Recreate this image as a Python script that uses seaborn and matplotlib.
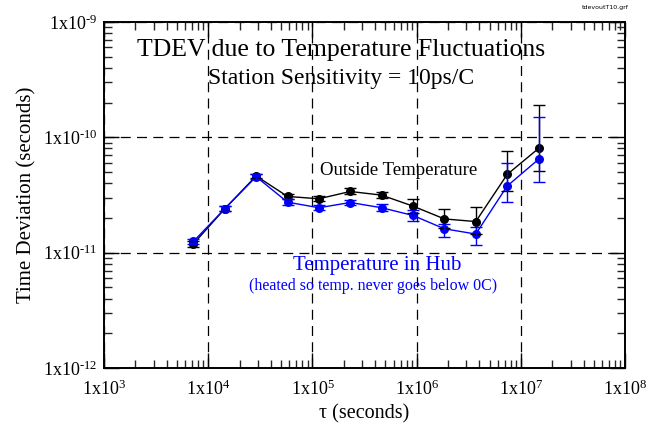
import numpy as np
import pandas as pd
import matplotlib
matplotlib.use("Agg")
import matplotlib.pyplot as plt
import seaborn as sns
from matplotlib.ticker import LogLocator, FixedLocator, NullFormatter

# =====================================
# Data
# =====================================
tau = [7200, 14400, 28800, 57600, 115200, 230400, 460800,
       921600, 1843200, 3686400, 7372800, 14745600]

outside = [1.19e-11, 2.40e-11, 4.62e-11, 3.07e-11, 2.93e-11, 3.39e-11, 3.15e-11,
           2.53e-11, 1.96e-11, 1.86e-11, 4.76e-11, 8.0e-11]
outside_lo = [1.12e-11, 2.28e-11, 4.40e-11, 2.90e-11, 2.78e-11, 3.20e-11, 2.95e-11,
              2.20e-11, 1.65e-11, 1.45e-11, 3.40e-11, 5.1e-11]
outside_hi = [1.27e-11, 2.53e-11, 4.85e-11, 3.25e-11, 3.08e-11, 3.60e-11, 3.38e-11,
              2.90e-11, 2.40e-11, 2.48e-11, 7.60e-11, 1.9e-10]

hub = [1.25e-11, 2.40e-11, 4.55e-11, 2.74e-11, 2.45e-11, 2.72e-11, 2.45e-11,
       2.10e-11, 1.61e-11, 1.45e-11, 3.78e-11, 6.44e-11]
hub_lo = [1.18e-11, 2.28e-11, 4.33e-11, 2.58e-11, 2.32e-11, 2.57e-11, 2.28e-11,
          1.87e-11, 1.37e-11, 1.17e-11, 2.75e-11, 4.1e-11]
hub_hi = [1.32e-11, 2.52e-11, 4.77e-11, 2.90e-11, 2.58e-11, 2.87e-11, 2.62e-11,
          2.35e-11, 1.78e-11, 1.66e-11, 6.00e-11, 1.5e-10]

x_ticks = [1e3, 1e4, 1e5, 1e6, 1e7, 1e8]
x_labels = ["1x10$^{3}$", "1x10$^{4}$", "1x10$^{5}$",
            "1x10$^{6}$", "1x10$^{7}$", "1x10$^{8}$"]
y_ticks = [1e-12, 1e-11, 1e-10, 1e-9]
y_labels = ["1x10$^{\\text{-}12}$", "1x10$^{\\text{-}11}$",
            "1x10$^{\\text{-}10}$", "1x10$^{\\text{-}9}$"]

df = pd.DataFrame({
    "tau": tau * 2,
    "tdev": outside + hub,
    "series": ["Outside"] * len(tau) + ["Hub"] * len(tau),
})

# =====================================
# Style
# =====================================
sns.set_style("ticks")
plt.rcParams["font.family"] = ["Liberation Serif", "DejaVu Serif"]
plt.rcParams["mathtext.fontset"] = "custom"
plt.rcParams["mathtext.rm"] = "Liberation Serif"
plt.rcParams["mathtext.it"] = "Liberation Serif:italic"
plt.rcParams["text.color"] = "black"
plt.rcParams["axes.labelcolor"] = "black"

fig = plt.figure(figsize=(6.54, 4.28), dpi=100)
ax = fig.add_axes([0.159, 0.140, 0.797, 0.809])

# =====================================
# Lines + markers
# =====================================
palette = {"Outside": "black", "Hub": "#0000ff"}
sns.lineplot(data=df, x="tau", y="tdev", hue="series", palette=palette,
             marker="o", markersize=6.5, markeredgewidth=0, linewidth=1,
             legend=False, ax=ax, zorder=3)

for vals, lo, hi, col in [(outside, outside_lo, outside_hi, "black"),
                          (hub, hub_lo, hub_hi, "#0000ff")]:
    v = np.array(vals)
    yerr = [v - np.array(lo), np.array(hi) - v]
    ax.errorbar(tau, vals, yerr=yerr, fmt="none", ecolor=col,
                elinewidth=1, capsize=4, capthick=1, zorder=3)

ax.set_xscale("log")
ax.set_yscale("log")
ax.set_xlim(1e3, 1e8)
ax.set_ylim(1e-12, 1e-9)

# =====================================
# Ticks / grid
# =====================================
ax.xaxis.set_major_locator(FixedLocator(x_ticks))
ax.set_xticklabels(x_labels)
ax.yaxis.set_major_locator(FixedLocator(y_ticks))
ax.set_yticklabels(y_labels)
ax.xaxis.set_minor_locator(LogLocator(base=10, subs=np.arange(2, 10)))
ax.yaxis.set_minor_locator(LogLocator(base=10, subs=np.arange(2, 10)))
ax.xaxis.set_minor_formatter(NullFormatter())
ax.yaxis.set_minor_formatter(NullFormatter())

ax.tick_params(which="major", direction="in", length=11, width=1,
               top=True, right=True, labelsize=13, colors="black")
ax.tick_params(axis="x", which="major", pad=8)
ax.tick_params(axis="y", which="major", pad=5)
ax.tick_params(which="minor", direction="in", length=6, width=1,
               top=True, right=True)

ax.grid(True, which="major", color="black", linestyle=(0, (8, 5)), linewidth=0.9)
for s in ax.spines.values():
    s.set_linewidth(1.4)
    s.set_color("black")

ax.set_xlabel("\u03c4 (seconds)", fontsize=14.5, labelpad=4)
ax.set_ylabel("Time Deviation (seconds)", fontsize=15, labelpad=4)

# =====================================
# Annotations
# =====================================
ax.text(0.455, 0.92, "TDEV due to Temperature Fluctuations", transform=ax.transAxes,
        ha="center", va="center", fontsize=18.5)
ax.text(0.455, 0.836, "Station Sensitivity = 10ps/C", transform=ax.transAxes,
        ha="center", va="center", fontsize=17)
ax.text(0.565, 0.57, "Outside Temperature", transform=ax.transAxes,
        ha="center", va="center", fontsize=13.5)
ax.text(0.525, 0.295, "Temperature in Hub", transform=ax.transAxes,
        ha="center", va="center", fontsize=15, color="#0000ff")
ax.text(0.517, 0.237, "(heated so temp. never goes below 0C)", transform=ax.transAxes,
        ha="center", va="center", fontsize=11.5, color="#0000ff")
fig.text(0.925, 0.982, "tdevoutT10.grf", ha="center", va="center",
         fontsize=4.5, family="DejaVu Sans")

fig.savefig("out.png", dpi=100)
